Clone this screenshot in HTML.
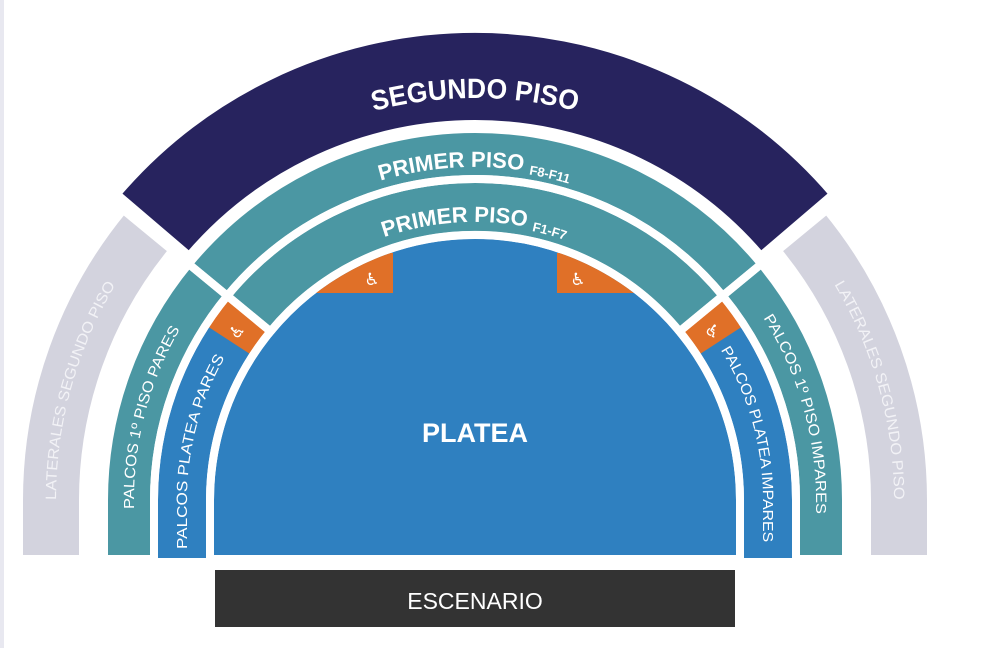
<!DOCTYPE html>
<html><head><meta charset="utf-8"><style>
html,body{margin:0;padding:0;background:#fff;}
svg{display:block;}
text{font-family:"Liberation Sans","DejaVu Sans",sans-serif;fill:#fff;}
</style></head><body>
<svg width="983" height="648" viewBox="0 0 983 648" xmlns="http://www.w3.org/2000/svg">
<defs>
<clipPath id="pc"><path d="M214 555 L214 500 A261 261 0 0 1 736 500 L736 555 Z"/></clipPath>
<path id="t_seg" d="M274 151.9 A402 402 0 0 1 676 151.9"/>
<path id="t_p2" d="M308.5 211.6 A333 333 0 0 1 641.5 211.6"/>
<path id="t_p1" d="M336 259.2 A278 278 0 0 1 614 259.2"/>
<path id="t_ll" d="M56 555 L56 500 A419 419 0 0 1 154 230.7"/>
<path id="t_l1" d="M134 555 L134 500 A341 341 0 0 1 213.8 280.8"/>
<path id="t_lp" d="M187 558 L187 500 A288 288 0 0 1 233.5 343.1"/>
<path id="t_rl" d="M796 230.7 A419 419 0 0 1 894 500 L894 555"/>
<path id="t_r1" d="M736.2 280.8 A341 341 0 0 1 816 500 L816 555"/>
<path id="t_rp" d="M716.5 343.1 A288 288 0 0 1 763 500 L763 558"/>
</defs>
<rect x="0" y="0" width="4" height="648" fill="#e8e8f0"/>
<g id="shapes">
<path fill="#2f80c0" d="M210 559 L210 500 A265 265 0 0 1 740 500 L740 559 Z"/>
<path fill="#2f80c0" d="M154 562 L154 500 A321 321 0 0 1 227.3 295.8 L270.5 331.4 A265 265 0 0 0 210 500 L210 562 Z"/>
<path fill="#2f80c0" d="M796 562 L796 500 A321 321 0 0 0 722.7 295.8 L679.5 331.4 A265 265 0 0 1 740 500 L740 562 Z"/>
<path fill="#4b97a3" d="M227.3 295.8 A321 321 0 0 1 722.7 295.8 L679.5 331.4 A265 265 0 0 0 270.5 331.4 Z"/>
<path fill="#e07028" d="M205.8 325.2 A321 321 0 0 1 227.3 295.8 L270.5 331.4 A265 265 0 0 0 252.7 355.7 Z"/>
<path fill="#e07028" d="M744.2 325.2 A321 321 0 0 0 722.7 295.8 L679.5 331.4 A265 265 0 0 1 697.3 355.7 Z"/>
<path fill="#4b97a3" d="M104 559 L104 500 A371 371 0 0 1 188.7 264 L227.3 295.8 A321 321 0 0 0 154 500 L154 559 Z"/>
<path fill="#4b97a3" d="M846 559 L846 500 A371 371 0 0 0 761.3 264 L722.7 295.8 A321 321 0 0 1 796 500 L796 559 Z"/>
<path fill="#4b97a3" d="M188.7 264 A371 371 0 0 1 761.3 264 L722.7 295.8 A321 321 0 0 0 227.3 295.8 Z"/>
<path fill="#27235e" d="M116.8 194.1 A471 471 0 0 1 833.2 194.1 L760.9 255.8 A376 376 0 0 0 189.1 255.8 Z"/>
<path fill="#d3d3de" d="M19 559 L19 500 A456 456 0 0 1 123.2 209.9 L172.5 250.6 A392 392 0 0 0 83 500 L83 559 Z"/>
<path fill="#d3d3de" d="M931 559 L931 500 A456 456 0 0 0 826.8 209.9 L777.5 250.6 A392 392 0 0 1 867 500 L867 559 Z"/>
</g>
<g fill="none" stroke="#fff" stroke-width="8" stroke-linejoin="miter">
<path d="M210 559 L210 500 A265 265 0 0 1 740 500 L740 559 Z"/>
<path d="M154 562 L154 500 A321 321 0 0 1 227.3 295.8 L270.5 331.4 A265 265 0 0 0 210 500 L210 562 Z"/>
<path d="M796 562 L796 500 A321 321 0 0 0 722.7 295.8 L679.5 331.4 A265 265 0 0 1 740 500 L740 562 Z"/>
<path d="M227.3 295.8 A321 321 0 0 1 722.7 295.8 L679.5 331.4 A265 265 0 0 0 270.5 331.4 Z"/>
<path d="M104 559 L104 500 A371 371 0 0 1 188.7 264 L227.3 295.8 A321 321 0 0 0 154 500 L154 559 Z"/>
<path d="M846 559 L846 500 A371 371 0 0 0 761.3 264 L722.7 295.8 A321 321 0 0 1 796 500 L796 559 Z"/>
<path d="M188.7 264 A371 371 0 0 1 761.3 264 L722.7 295.8 A321 321 0 0 0 227.3 295.8 Z"/>
<path d="M116.8 194.1 A471 471 0 0 1 833.2 194.1 L760.9 255.8 A376 376 0 0 0 189.1 255.8 Z"/>
<path d="M19 559 L19 500 A456 456 0 0 1 123.2 209.9 L172.5 250.6 A392 392 0 0 0 83 500 L83 559 Z"/>
<path d="M931 559 L931 500 A456 456 0 0 0 826.8 209.9 L777.5 250.6 A392 392 0 0 1 867 500 L867 559 Z"/>
</g>
<rect x="5" y="555" width="978" height="4" fill="#fff"/>
<rect x="158" y="554" width="48" height="4" fill="#2f80c0"/>
<rect x="744" y="554" width="48" height="4" fill="#2f80c0"/>
<g clip-path="url(#pc)" fill="#e07028">
<rect x="290" y="253" width="103" height="40"/>
<rect x="557" y="253" width="103" height="40"/>
</g>
<g font-family="DejaVu Sans" font-size="17">
<text x="372" y="285" text-anchor="middle">♿</text>
<text x="578" y="285" text-anchor="middle">♿</text>
<text x="237" y="337" text-anchor="middle" transform="rotate(-40 237 331)">♿</text>
<text x="713" y="337" text-anchor="middle" transform="rotate(40 713 331)">♿</text>
</g>
<text font-size="28" font-weight="bold"><textPath href="#t_seg" startOffset="50%" text-anchor="middle" textLength="205" lengthAdjust="spacingAndGlyphs">SEGUNDO PISO</textPath></text>
<text font-size="22" font-weight="bold"><textPath href="#t_p2" startOffset="50%" text-anchor="middle">PRIMER PISO <tspan font-size="13" dy="3">F8-F11</tspan></textPath></text>
<text font-size="22" font-weight="bold"><textPath href="#t_p1" startOffset="50%" text-anchor="middle">PRIMER PISO <tspan font-size="13" dy="3">F1-F7</tspan></textPath></text>
<g font-size="15">
<text style="fill:#f2f2f6"><textPath href="#t_ll" startOffset="168" text-anchor="middle" textLength="226" lengthAdjust="spacingAndGlyphs">LATERALES SEGUNDO PISO</textPath></text>
<text><textPath href="#t_l1" startOffset="140" text-anchor="middle" textLength="188" lengthAdjust="spacingAndGlyphs">PALCOS 1º PISO PARES</textPath></text>
<text><textPath href="#t_lp" startOffset="108" text-anchor="middle" textLength="198" lengthAdjust="spacingAndGlyphs">PALCOS PLATEA PARES</textPath></text>
<text style="fill:#f2f2f6"><textPath href="#t_rl" startOffset="179" text-anchor="middle" textLength="226" lengthAdjust="spacingAndGlyphs">LATERALES SEGUNDO PISO</textPath></text>
<text><textPath href="#t_r1" startOffset="149" text-anchor="middle" textLength="206" lengthAdjust="spacingAndGlyphs">PALCOS 1º PISO IMPARES</textPath></text>
<text><textPath href="#t_rp" startOffset="108" text-anchor="middle" textLength="200" lengthAdjust="spacingAndGlyphs">PALCOS PLATEA IMPARES</textPath></text>
</g>
<text x="475" y="442" font-size="27" font-weight="bold" text-anchor="middle">PLATEA</text>
<rect x="215" y="570" width="520" height="57" fill="#333333"/>
<text x="475" y="609" font-size="23" text-anchor="middle">ESCENARIO</text>
</svg>
</body></html>
